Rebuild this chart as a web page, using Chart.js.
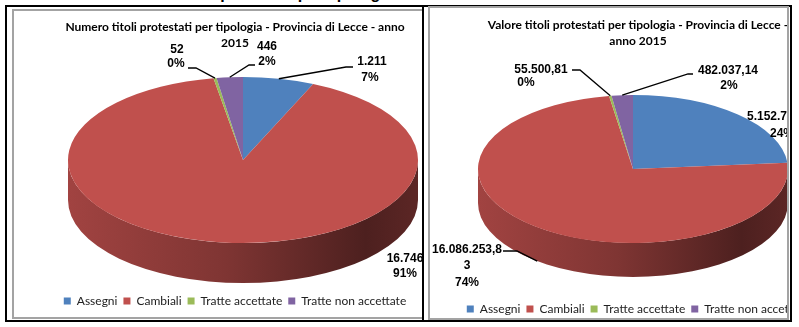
<!DOCTYPE html>
<html lang="it">
<head>
<meta charset="UTF-8">
<title>Titoli protestati per tipologia - Provincia di Lecce 2015</title>
<script src="https://cdn.jsdelivr.net/npm/chart.js"></script>
<style>
  body { margin: 0; width: 799px; height: 327px; overflow: hidden; background: #fff; position: relative; }
  .cut { position: absolute; left: 178px; top: -14px; font: bold 16px 'Liberation Sans', sans-serif; line-height: 16px; color: #000; white-space: nowrap; }
  .outer { position: absolute; box-sizing: border-box; border: 2px solid #000; background: #fff; }
  .inner { position: absolute; box-sizing: border-box; border: 2px solid #a3a3a3; overflow: hidden; background: #fff; }
  canvas { position: absolute; left: 0; top: 0; }
</style>
</head>
<body>
<div class="cut">Titoli protestati per tipologia</div>

<div class="outer" style="left:5px; top:5px; width:419px; height:317px;"></div>
<div class="outer" style="left:422px; top:5px; width:370px; height:317px;"></div>

<div class="inner" style="left:12px; top:9px; width:410px; height:310px; border-right:none;">
  <canvas id="numeroChart" width="442" height="306"></canvas>
</div>
<div class="inner" style="left:428px; top:6px; width:361px; height:314px;">
  <canvas id="valoreChart" width="416" height="319"></canvas>
</div>

<script>
// data
const categories = ['Assegni', 'Cambiali', 'Tratte accettate', 'Tratte non accettate'];
const numeroValues = [1211, 16746, 52, 446];
const valoreValues = [5152700.00, 16086253.83, 55500.81, 482037.14];
const numeroTitle = ['Numero titoli protestati per tipologia - Provincia di Lecce - anno', '2015'];
const valoreTitle = ['Valore titoli protestati per tipologia - Provincia di Lecce -', 'anno 2015'];
const sliceColors = ['#4F81BD', '#C0504D', '#9BBB59', '#8064A2'];

function fmt(v, dec) {
    let parts = v.toFixed(dec).split('.');
    parts[0] = parts[0].replace(/\B(?=(\d{3})+(?!\d))/g, '.');
    return parts.join(',');
}

function shade(hex, f) {
    let n = parseInt(hex.slice(1), 16);
    let r = Math.round(((n >> 16) & 255) * f), g = Math.round(((n >> 8) & 255) * f), b = Math.round((n & 255) * f);
    return `rgb(${r},${g},${b})`;
}

// flattens the pie into a 3D-looking ellipse and writes Excel-style labels
function makeTilt(geo) {
    let saved = false;
    return {
        id: 'tilt',
        beforeDatasetsDraw(chart) {
            let arcs = chart.getDatasetMeta(0).data;
            if (!arcs.length) return;
            let ctx = chart.ctx;
            let { x, y, outerRadius: R } = arcs[0].getProps(['x', 'y', 'outerRadius'], true);
            ctx.save();
            saved = true;
            ctx.translate(geo.cx, geo.cy);
            ctx.scale(geo.rx / R, geo.ry / R);
            ctx.translate(-x, -y);
            let d = geo.depth * R / geo.ry;
            arcs.forEach((arc, i) => {
                let p = arc.getProps(['startAngle', 'endAngle'], true);
                let s = Math.max(p.startAngle, 0), e = Math.min(p.endAngle, Math.PI);
                if (e <= s) return;
                let base = sliceColors[i];
                let grad = ctx.createLinearGradient(x - R, 0, x + R, 0);
                grad.addColorStop(0, shade(base, 0.84));
                grad.addColorStop(0.45, shade(base, 0.66));
                grad.addColorStop(0.85, shade(base, 0.40));
                grad.addColorStop(1, shade(base, 0.48));
                ctx.beginPath();
                ctx.arc(x, y, R, s, e);
                ctx.arc(x, y + d, R, e, s, true);
                ctx.closePath();
                ctx.fillStyle = grad;
                ctx.fill();
            });
        },
        afterDatasetsDraw(chart) {
            if (saved) { chart.ctx.restore(); saved = false; }
        },
        afterDraw(chart) {
            let ctx = chart.ctx;
            let arcs = chart.getDatasetMeta(0).data;
            let values = chart.data.datasets[0].data;
            let total = values.reduce((a, b) => a + b, 0);
            ctx.save();
            ctx.font = 'bold 12px "Liberation Sans", sans-serif';
            ctx.fillStyle = '#000';
            ctx.strokeStyle = '#000';
            ctx.lineWidth = 1.3;
            ctx.textAlign = 'center';
            ctx.textBaseline = 'middle';
            geo.labels.forEach((lab, i) => {
                let txt = fmt(values[i], geo.dec);
                let lines = lab.wrap ? [txt.slice(0, lab.wrap), txt.slice(lab.wrap)] : [txt];
                lines.push(Math.round(values[i] / total * 100) + '%');
                lines.forEach((t, k) => ctx.fillText(t, lab.pos[k][0], lab.pos[k][1]));
                if (lab.leader) {
                    let p = arcs[i].getProps(['startAngle', 'endAngle'], true);
                    let mid = (p.startAngle + p.endAngle) / 2;
                    let ex = geo.cx + geo.rx * Math.cos(mid);
                    let ey = geo.cy + geo.ry * Math.sin(mid) + (lab.side ? geo.depth : 0);
                    ctx.beginPath();
                    ctx.moveTo(lab.leader[0][0], lab.leader[0][1]);
                    lab.leader.slice(1).forEach(q => ctx.lineTo(q[0], q[1]));
                    ctx.lineTo(ex, ey);
                    ctx.stroke();
                }
            });
            ctx.restore();
        }
    };
}

function makePie(id, values, title, geo) {
    return new Chart(document.getElementById(id), {
        type: 'pie',
        data: {
            labels: categories,
            datasets: [{ data: values, backgroundColor: sliceColors, borderWidth: 0, hoverOffset: 0, clip: false }]
        },
        options: {
            responsive: false,
            devicePixelRatio: 1,
            animation: false,
            events: [],
            layout: { padding: { bottom: geo.legendBottom } },
            plugins: {
                title: {
                    display: true,
                    text: title,
                    color: '#000',
                    font: { family: 'Lato', size: 12, weight: 'bold', lineHeight: 1.35 },
                    padding: { top: geo.titleTop, bottom: 0 }
                },
                legend: {
                    position: 'bottom',
                    labels: {
                        color: '#222',
                        boxWidth: 7,
                        boxHeight: 7,
                        padding: 6,
                        font: { family: 'Lato', size: 12 }
                    }
                },
                tooltip: { enabled: false }
            }
        },
        plugins: [makeTilt(geo)]
    });
}

makePie('numeroChart', numeroValues, numeroTitle, {
    cx: 229, cy: 149, rx: 175, ry: 83, depth: 40, dec: 0, titleTop: 8, legendBottom: 0,
    labels: [
        { pos: [[358, 51], [356, 67]], leader: [[339, 56], [332, 56]] },
        { pos: [[391, 248], [391, 263]] },
        { pos: [[163, 39], [162, 53]], leader: [[174, 57], [182, 57]] },
        { pos: [[253, 36], [253, 51]], leader: [[241, 54], [235, 54]] }
    ]
});

makePie('valoreChart', valoreValues, valoreTitle, {
    cx: 203, cy: 161, rx: 155, ry: 74, depth: 34, dec: 2, titleTop: 9, legendBottom: 2,
    labels: [
        { pos: [[352, 109], [352, 126]] },
        { pos: [[37, 242], [37, 258], [37, 275]], wrap: 12, leader: [[73, 243], [87, 243]], side: true },
        { pos: [[111, 62], [96, 75]], leader: [[142, 62], [150, 62]] },
        { pos: [[298, 63], [299, 78]], leader: [[263, 66], [258, 66]] }
    ]
});
</script>
</body>
</html>
